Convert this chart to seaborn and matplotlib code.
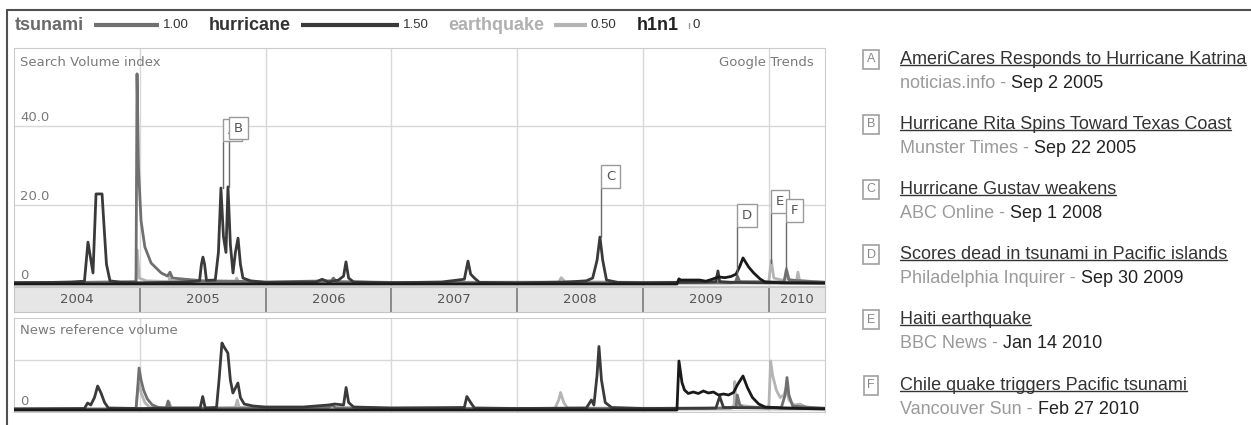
import numpy as np
import pandas as pd
import matplotlib
matplotlib.use("Agg")
import matplotlib.pyplot as plt
import matplotlib.transforms as mtransforms
from matplotlib.lines import Line2D
import seaborn as sns

W, H = 1251, 425

# ---- data (decimal years, index values) ----
year_starts = [2004, 2005, 2006, 2007, 2008, 2009, 2010]
x_start, x_end = 2004.0, 2010.447

terms = ["earthquake", "tsunami", "hurricane", "h1n1"]
scale_labels = {"tsunami": "1.00", "hurricane": "1.50", "earthquake": "0.50", "h1n1": "0"}
scale_values = {"tsunami": 1.0, "hurricane": 1.5, "earthquake": 0.5, "h1n1": 0.0}

# search volume index (upper panel)
search_hurricane = [
    (2004.0, 0.3), (2004.30, 0.4), (2004.45, 0.5), (2004.56, 0.7), (2004.588, 10.6),
    (2004.628, 2.8), (2004.652, 22.8), (2004.70, 22.8), (2004.715, 15.0), (2004.735, 5.0),
    (2004.763, 0.8), (2004.85, 0.4), (2005.0, 0.3), (2005.2, 0.4), (2005.40, 0.6),
    (2005.475, 0.8), (2005.49, 5.0), (2005.502, 6.8), (2005.515, 5.0), (2005.53, 0.9),
    (2005.60, 1.0), (2005.625, 8.0), (2005.645, 24.3), (2005.665, 12.0), (2005.685, 8.0),
    (2005.701, 24.6), (2005.72, 10.0), (2005.741, 2.8), (2005.76, 8.0), (2005.781, 11.6),
    (2005.80, 5.0), (2005.82, 1.5), (2005.88, 0.8), (2006.0, 0.4), (2006.40, 0.5),
    (2006.45, 1.2), (2006.50, 0.5), (2006.58, 1.0), (2006.62, 2.0), (2006.639, 5.6),
    (2006.66, 1.5), (2006.70, 0.5), (2007.0, 0.3), (2007.40, 0.5), (2007.58, 1.2),
    (2007.609, 5.8), (2007.63, 2.5), (2007.66, 1.5), (2007.70, 0.4), (2008.0, 0.3),
    (2008.40, 0.5), (2008.55, 0.8), (2008.60, 1.5), (2008.635, 6.0), (2008.658, 11.9),
    (2008.68, 6.0), (2008.71, 1.0), (2008.80, 0.4), (2009.0, 0.3), (2009.50, 0.5),
    (2009.58, 0.6), (2009.596, 3.3), (2009.61, 0.6), (2009.70, 0.4), (2010.0, 0.3),
    (2010.447, 0.3),
]
search_tsunami = [
    (2004.0, 0.4), (2004.5, 0.4), (2004.97, 0.6), (2004.978, 53.2), (2004.99, 29.0),
    (2005.01, 16.0), (2005.04, 9.4), (2005.09, 5.3), (2005.17, 2.8), (2005.22, 2.0),
    (2005.24, 3.0), (2005.26, 1.5), (2005.5, 0.8), (2005.75, 0.7), (2006.0, 0.5),
    (2006.52, 0.8), (2006.54, 1.5), (2006.56, 0.6), (2007.0, 0.4), (2008.0, 0.3),
    (2009.7, 0.3), (2009.74, 0.5), (2009.75, 2.0), (2009.77, 0.6), (2010.12, 0.5),
    (2010.14, 3.5), (2010.16, 1.0), (2010.447, 0.4),
]
search_earthquake = [
    (2004.0, 0.3), (2004.97, 0.3), (2004.98, 8.6), (2004.995, 1.5), (2005.05, 0.8),
    (2005.23, 0.6), (2005.24, 2.0), (2005.25, 0.6), (2005.76, 0.5), (2005.77, 1.5),
    (2005.785, 0.5), (2006.0, 0.4), (2007.0, 0.4), (2008.33, 0.5), (2008.35, 1.6),
    (2008.38, 0.6), (2009.0, 0.4), (2009.73, 0.5), (2009.745, 1.3), (2009.76, 0.4),
    (2010.0, 0.5), (2010.02, 6.0), (2010.04, 1.5), (2010.13, 0.8), (2010.14, 4.0),
    (2010.16, 1.2), (2010.22, 0.8), (2010.232, 3.0), (2010.245, 0.8), (2010.447, 0.5),
]
search_h1n1 = [
    (2004.0, 0.0), (2009.27, 0.0), (2009.286, 1.3), (2009.30, 1.0), (2009.45, 1.0),
    (2009.50, 0.7), (2009.55, 1.2), (2009.60, 1.8), (2009.65, 1.6), (2009.70, 1.9),
    (2009.74, 2.5), (2009.77, 4.5), (2009.795, 6.6), (2009.84, 4.3), (2009.88, 2.8),
    (2009.93, 1.3), (2009.97, 0.5), (2010.10, 0.3), (2010.447, 0.2),
]

# news reference volume (lower panel)
news_hurricane = [
    (2004.0, 0.02), (2004.56, 0.03), (2004.585, 0.14), (2004.61, 0.10), (2004.64, 0.25),
    (2004.665, 0.48), (2004.69, 0.35), (2004.72, 0.15), (2004.75, 0.04), (2005.0, 0.03),
    (2005.48, 0.04), (2005.50, 0.27), (2005.52, 0.04), (2005.61, 0.05), (2005.63, 0.60),
    (2005.653, 1.34), (2005.67, 1.26), (2005.70, 1.14), (2005.72, 0.60), (2005.74, 0.34),
    (2005.78, 0.54), (2005.80, 0.25), (2005.83, 0.12), (2005.90, 0.08), (2006.0, 0.06),
    (2006.3, 0.06), (2006.5, 0.10), (2006.55, 0.12), (2006.62, 0.10), (2006.64, 0.45),
    (2006.66, 0.15), (2006.70, 0.06), (2007.0, 0.04), (2007.58, 0.05), (2007.60, 0.27),
    (2007.63, 0.15), (2007.66, 0.04), (2008.0, 0.03), (2008.55, 0.04), (2008.59, 0.20),
    (2008.61, 0.10), (2008.635, 0.70), (2008.65, 1.27), (2008.67, 0.60), (2008.70, 0.15),
    (2008.75, 0.05), (2009.0, 0.03), (2009.58, 0.04), (2009.61, 0.27), (2009.64, 0.05),
    (2010.447, 0.03),
]
news_tsunami = [
    (2004.0, 0.02), (2004.97, 0.02), (2004.985, 0.50), (2004.994, 0.84), (2005.01, 0.60),
    (2005.03, 0.40), (2005.06, 0.22), (2005.10, 0.10), (2005.15, 0.05), (2005.21, 0.04),
    (2005.225, 0.18), (2005.24, 0.04), (2005.5, 0.03), (2006.5, 0.05), (2006.53, 0.10),
    (2006.56, 0.04), (2007.0, 0.03), (2009.5, 0.03), (2009.74, 0.05), (2009.75, 0.30),
    (2009.77, 0.10), (2009.80, 0.05), (2010.10, 0.05), (2010.13, 0.30), (2010.145, 0.65),
    (2010.16, 0.30), (2010.19, 0.08), (2010.447, 0.03),
]
news_earthquake = [
    (2004.0, 0.02), (2004.97, 0.02), (2004.99, 0.55), (2005.01, 0.35), (2005.04, 0.15),
    (2005.08, 0.05), (2005.22, 0.05), (2005.235, 0.15), (2005.25, 0.04), (2005.76, 0.05),
    (2005.775, 0.20), (2005.79, 0.05), (2008.30, 0.03), (2008.33, 0.20), (2008.345, 0.35),
    (2008.37, 0.15), (2008.40, 0.04), (2009.70, 0.03), (2009.725, 0.10), (2009.73, 0.57),
    (2009.74, 0.10), (2010.0, 0.03), (2010.015, 0.98), (2010.03, 0.70), (2010.06, 0.40),
    (2010.09, 0.25), (2010.12, 0.30), (2010.14, 0.45), (2010.16, 0.20), (2010.20, 0.10),
    (2010.25, 0.12), (2010.30, 0.05), (2010.447, 0.04),
]
news_h1n1 = [
    (2004.0, 0.0), (2009.27, 0.0), (2009.286, 0.98), (2009.31, 0.55), (2009.33, 0.40),
    (2009.36, 0.33), (2009.40, 0.36), (2009.44, 0.33), (2009.48, 0.38), (2009.52, 0.34),
    (2009.56, 0.36), (2009.60, 0.30), (2009.64, 0.32), (2009.68, 0.30), (2009.72, 0.35),
    (2009.75, 0.50), (2009.795, 0.68), (2009.83, 0.45), (2009.87, 0.25), (2009.92, 0.12),
    (2009.97, 0.06), (2010.10, 0.04), (2010.447, 0.02),
]

# news headlines
event_letters = ["A", "B", "C", "D", "E", "F"]
event_years = [2005.66, 2005.71, 2008.666, 2009.747, 2010.018, 2010.137]
event_values = [24.3, 24.6, 11.9, 1.8, 5.3, 3.5]
event_titles = [
    "AmeriCares Responds to Hurricane Katrina",
    "Hurricane Rita Spins Toward Texas Coast",
    "Hurricane Gustav weakens",
    "Scores dead in tsunami in Pacific islands",
    "Haiti earthquake",
    "Chile quake triggers Pacific tsunami",
]
event_sources = ["noticias.info", "Munster Times", "ABC Online",
                 "Philadelphia Inquirer", "BBC News", "Vancouver Sun"]
event_dates = ["Sep 2 2005", "Sep 22 2005", "Sep 1 2008",
               "Sep 30 2009", "Jan 14 2010", "Feb 27 2010"]

# ---- style ----
line_colors = {"tsunami": "#707070", "hurricane": "#3a3a3a", "earthquake": "#b4b4b4", "h1n1": "#1a1a1a"}
label_colors = {"tsunami": "#6a6a6a", "hurricane": "#333333", "earthquake": "#b0b0b0", "h1n1": "#222222"}
box_levels = [36.0, 36.5, 24.3, 14.4, 18.0, 15.7]

sns.set_style("white")
plt.rcParams["font.family"] = ["DejaVu Sans"]

search = {"hurricane": search_hurricane, "tsunami": search_tsunami,
          "earthquake": search_earthquake, "h1n1": search_h1n1}
news = {"hurricane": news_hurricane, "tsunami": news_tsunami,
        "earthquake": news_earthquake, "h1n1": news_h1n1}


def to_long(series):
    frames = []
    for term, pts in series.items():
        d = pd.DataFrame(pts, columns=["year", "value"])
        d["term"] = term
        frames.append(d)
    return pd.concat(frames, ignore_index=True)


search_df = to_long(search)
news_df = to_long(news)

fig = plt.figure(figsize=(W / 100, H / 100), dpi=100)


def rect(l, t, r, b):
    return [l / W, 1 - b / H, (r - l) / W, (b - t) / H]


ax_s = fig.add_axes(rect(14, 48, 825, 286))
ax_b = fig.add_axes(rect(14, 287, 825, 312))
ax_n = fig.add_axes(rect(14, 318, 825, 412))

grid_c = "#d8d8d8"
for ax, df in [(ax_s, search_df), (ax_n, news_df)]:
    for term in terms:
        d = df[df["term"] == term]
        sns.lineplot(data=d, x="year", y="value", ax=ax, color=line_colors[term],
                     lw=2.0, estimator=None, sort=False, zorder=3)
    ax.set_xlim(x_start, x_end)
    ax.set_xticks(year_starts[1:])
    ax.grid(True, color=grid_c, lw=1)
    ax.tick_params(labelbottom=False, labelleft=False, length=0)
    ax.set_xlabel("")
    ax.set_ylabel("")
    for sp in ax.spines.values():
        sp.set_color("#cccccc")

ax_s.set_ylim(-0.51, 59.75)
ax_s.set_yticks([0, 20, 40])
ax_n.set_ylim(-0.04, 1.84)
ax_n.set_yticks([0, 1])

txt_c = "#7a7a7a"
ts = mtransforms.blended_transform_factory(ax_s.transAxes, ax_s.transData)
for v, lab in zip([0, 20, 40], ["0", "20.0", "40.0"]):
    ax_s.annotate(lab, (0.0075, v), xycoords=ts, xytext=(0, 2), textcoords="offset pixels",
                  va="bottom", ha="left", fontsize=9.5, color=txt_c)
ax_s.text(0.0075, 0.94, "Search Volume index", transform=ax_s.transAxes,
          va="center", ha="left", fontsize=9.5, color=txt_c)
ax_s.text(0.9865, 0.94, "Google Trends", transform=ax_s.transAxes,
          va="center", ha="right", fontsize=9.5, color=txt_c)

tn = mtransforms.blended_transform_factory(ax_n.transAxes, ax_n.transData)
ax_n.annotate("0", (0.0075, 0), xycoords=tn, xytext=(0, 2), textcoords="offset pixels",
              va="bottom", ha="left", fontsize=9.5, color=txt_c)
ax_n.text(0.0075, 0.87, "News reference volume", transform=ax_n.transAxes,
          va="center", ha="left", fontsize=9.5, color=txt_c)

# year band
ax_b.set_facecolor("#e6e6e6")
ax_b.set_xlim(x_start, x_end)
ax_b.set_ylim(0, 1)
ax_b.set_yticks([])
ax_b.set_xticks(year_starts[1:])
ax_b.set_xticks([y + q for y in year_starts for q in (0.25, 0.5, 0.75) if y + q < x_end], minor=True)
ax_b.tick_params(axis="x", which="major", direction="out", length=4.5, width=1.4,
                 color="#808080", labelbottom=False)
ax_b.tick_params(axis="x", which="minor", direction="out", length=3.6, width=1,
                 color="#909090")
ax_b.vlines(year_starts[1:], 0, 1, color="#8a8a8a", lw=1.4)
for sp in ax_b.spines.values():
    sp.set_color("#c4c4c4")
for y in year_starts:
    c = (max(y, x_start) + min(y + 1, x_end)) / 2
    ax_b.text(c, 0.5, str(y), ha="center", va="center", fontsize=9.5, color="#555555")

# event markers
for letter, x, v, lvl in zip(event_letters, event_years, event_values, box_levels):
    ax_s.plot([x, x], [v, lvl], color="#6a6a6a", lw=1, zorder=4)
    ax_s.annotate(letter, (x, lvl), xytext=(5, 5), textcoords="offset pixels",
                  ha="left", va="bottom", fontsize=9.5, color="#555555", zorder=5,
                  bbox=dict(boxstyle="square,pad=0.35", fc="white", ec="#9a9a9a", lw=1))

# outer frame
fig.add_artist(Line2D([7 / W, 1], [1 - 10 / H, 1 - 10 / H], color="#505050", lw=1.5))
fig.add_artist(Line2D([7 / W, 7 / W], [0, 1 - 10 / H], color="#505050", lw=1.5))

sans = ["Liberation Sans", "DejaVu Sans"]
fig.canvas.draw()
r = fig.canvas.get_renderer()


def px_right(t):
    return t.get_window_extent(r).x1


# legend row
leg_y = 1 - 25 / H
x = 15
for term in ["tsunami", "hurricane", "earthquake", "h1n1"]:
    t = fig.text(x / W, leg_y, term, fontsize=13, fontweight="bold", family=sans,
                 color=label_colors[term], va="center", ha="left")
    x = px_right(t) + 10
    length = 65 * scale_values[term]
    if length > 0:
        fig.add_artist(Line2D([x / W, (x + length) / W], [leg_y, leg_y],
                              color=line_colors[term], lw=3, solid_capstyle="butt"))
    else:
        fig.add_artist(Line2D([x / W, x / W], [leg_y - 2.5 / H, leg_y + 2.5 / H],
                              color="#999999", lw=1))
    x = x + length + 4
    t = fig.text(x / W, leg_y, scale_labels[term], fontsize=9.5, family=sans,
                 color="#333333", va="center", ha="left")
    x = px_right(t) + 20

# headlines
for i, letter in enumerate(event_letters):
    ty = 59 + i * 65.2
    fig.text(871 / W, 1 - ty / H, letter, fontsize=9, color="#888888", family=sans,
             ha="center", va="center",
             bbox=dict(boxstyle="square,pad=0.28", fc="white", ec="#a0a0a0", lw=1.2))
    t = fig.text(900 / W, 1 - ty / H, event_titles[i], fontsize=13, color="#333333",
                 family=sans, ha="left", va="center")
    bb = t.get_window_extent(r)
    uy = (bb.y0 + 3) / H
    fig.add_artist(Line2D([bb.x0 / W, bb.x1 / W], [uy, uy], color="#333333", lw=1))
    s = fig.text(900 / W, 1 - (ty + 24) / H, event_sources[i] + " -", fontsize=13,
                 color="#9a9a9a", family=sans, ha="left", va="center")
    fig.text((px_right(s) + 5) / W, 1 - (ty + 24) / H, event_dates[i], fontsize=13,
             color="#222222", family=sans, ha="left", va="center")

fig.savefig("out.png", dpi=100, facecolor="white")
